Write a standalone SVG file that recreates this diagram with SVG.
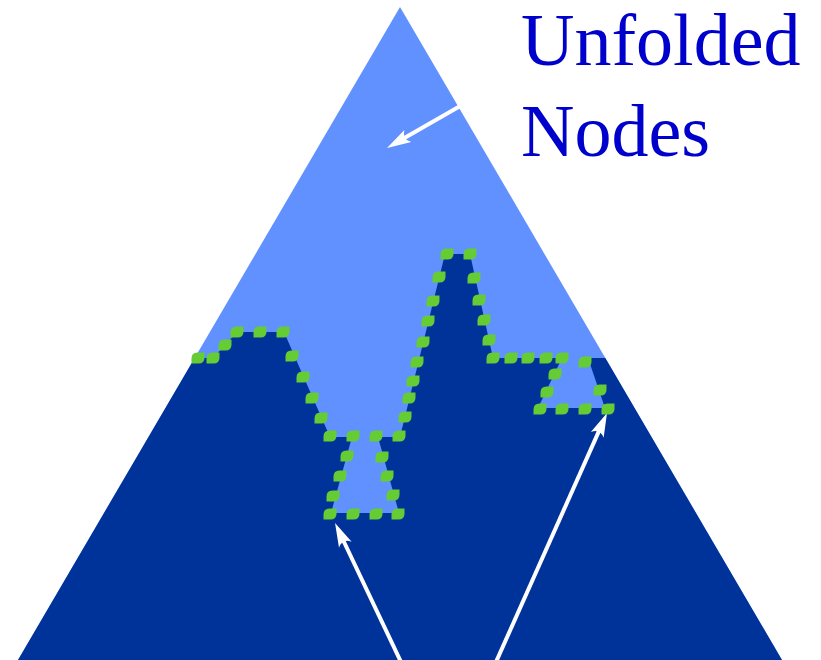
<svg xmlns="http://www.w3.org/2000/svg" xmlns:xlink="http://www.w3.org/1999/xlink" width="821" height="660" viewBox="0 0 821 660">
  <style>
    .upper { fill: #6190FF; }
    .lower { fill: #003399; }
    .label { font-family: "Liberation Serif", "Times New Roman", serif; font-size: 74px; fill: #0000CC; }
    .conn { stroke: #FFFFFF; stroke-width: 4; fill: none; marker-end: url(#head); }
    .dot { fill: #66CC33; }
  </style>
  <defs>
    <marker id="head" markerUnits="userSpaceOnUse" markerWidth="26" markerHeight="16" viewBox="0 0 26 16" refX="9" refY="8" orient="auto">
      <path d="M25,8 L1,1 Q8,8 1,15 Z" fill="#FFFFFF"/>
    </marker>
    <!-- leaf-shaped boundary dot: sharp at top-right and bottom-left -->
    <path id="leaf" class="dot" d="M-6.5,5.5 L-6.5,0.5 Q-6.5,-5.5 -0.5,-5.5 L6.5,-5.5 L6.5,-0.5 Q6.5,5.5 0.5,5.5 Z"/>
  </defs>

  <rect width="821" height="660" fill="#FFFFFF"/>

  <!-- search tree: unfolded part (light) and remaining part (dark) -->
  <g id="tree">
    <path class="upper" d="M400,7 L782,660 L18,660 Z"/>
    <path class="lower" d="M194.7,358 L213,358 L237,332 L284,332 L330,437 L352,437 L331,513 L399,513 L378,437 L400,437 L445,254 L470,254 L493,358 L562,358 L538,408 L605,408 L588,358 L605.3,358 L782,660 L18,660 Z"/>
  </g>

  <!-- label -->
  <g id="label">
    <text class="label" x="521" y="65">Unfolded</text>
    <text class="label" x="521" y="156">Nodes</text>
  </g>

  <!-- connectors -->
  <g id="connectors">
    <line class="conn" x1="462" y1="105" x2="400.9" y2="140"/>
    <line class="conn" x1="401" y1="662" x2="341.9" y2="537.5"/>
    <line class="conn" x1="496" y1="662" x2="600.5" y2="427.6"/>
  </g>

  <!-- dotted frontier between unfolded and remaining nodes -->
  <g id="frontier">
    <use xlink:href="#leaf" x="198" y="358"/>
    <use xlink:href="#leaf" x="213" y="358"/>
    <use xlink:href="#leaf" x="225" y="345"/>
    <use xlink:href="#leaf" x="237" y="332"/>
    <use xlink:href="#leaf" x="260" y="332"/>
    <use xlink:href="#leaf" x="283" y="332"/>
    <use xlink:href="#leaf" x="292" y="356"/>
    <use xlink:href="#leaf" x="303" y="377"/>
    <use xlink:href="#leaf" x="312" y="398"/>
    <use xlink:href="#leaf" x="321" y="418"/>
    <use xlink:href="#leaf" x="330" y="436"/>
    <use xlink:href="#leaf" x="353" y="436"/>
    <use xlink:href="#leaf" x="376" y="436"/>
    <use xlink:href="#leaf" x="399" y="436"/>
    <use xlink:href="#leaf" x="347" y="456"/>
    <use xlink:href="#leaf" x="340" y="476"/>
    <use xlink:href="#leaf" x="333" y="496"/>
    <use xlink:href="#leaf" x="330" y="514"/>
    <use xlink:href="#leaf" x="353" y="514"/>
    <use xlink:href="#leaf" x="376" y="514"/>
    <use xlink:href="#leaf" x="398" y="514"/>
    <use xlink:href="#leaf" x="382" y="457"/>
    <use xlink:href="#leaf" x="387" y="476"/>
    <use xlink:href="#leaf" x="393" y="495"/>
    <use xlink:href="#leaf" x="405" y="417"/>
    <use xlink:href="#leaf" x="409" y="398"/>
    <use xlink:href="#leaf" x="413" y="381"/>
    <use xlink:href="#leaf" x="417" y="362"/>
    <use xlink:href="#leaf" x="423" y="342"/>
    <use xlink:href="#leaf" x="428" y="321"/>
    <use xlink:href="#leaf" x="433" y="301"/>
    <use xlink:href="#leaf" x="439" y="277"/>
    <use xlink:href="#leaf" x="447" y="254"/>
    <use xlink:href="#leaf" x="470" y="254"/>
    <use xlink:href="#leaf" x="474" y="278"/>
    <use xlink:href="#leaf" x="479" y="300"/>
    <use xlink:href="#leaf" x="484" y="320"/>
    <use xlink:href="#leaf" x="489" y="340"/>
    <use xlink:href="#leaf" x="493" y="358"/>
    <use xlink:href="#leaf" x="511" y="358"/>
    <use xlink:href="#leaf" x="528" y="358"/>
    <use xlink:href="#leaf" x="546" y="358"/>
    <use xlink:href="#leaf" x="562" y="358"/>
    <use xlink:href="#leaf" x="555" y="374"/>
    <use xlink:href="#leaf" x="547" y="392"/>
    <use xlink:href="#leaf" x="540" y="409"/>
    <use xlink:href="#leaf" x="562" y="409"/>
    <use xlink:href="#leaf" x="585" y="409"/>
    <use xlink:href="#leaf" x="608" y="409"/>
    <use xlink:href="#leaf" x="600" y="390"/>
    <use xlink:href="#leaf" x="585" y="362"/>
  </g>
</svg>
